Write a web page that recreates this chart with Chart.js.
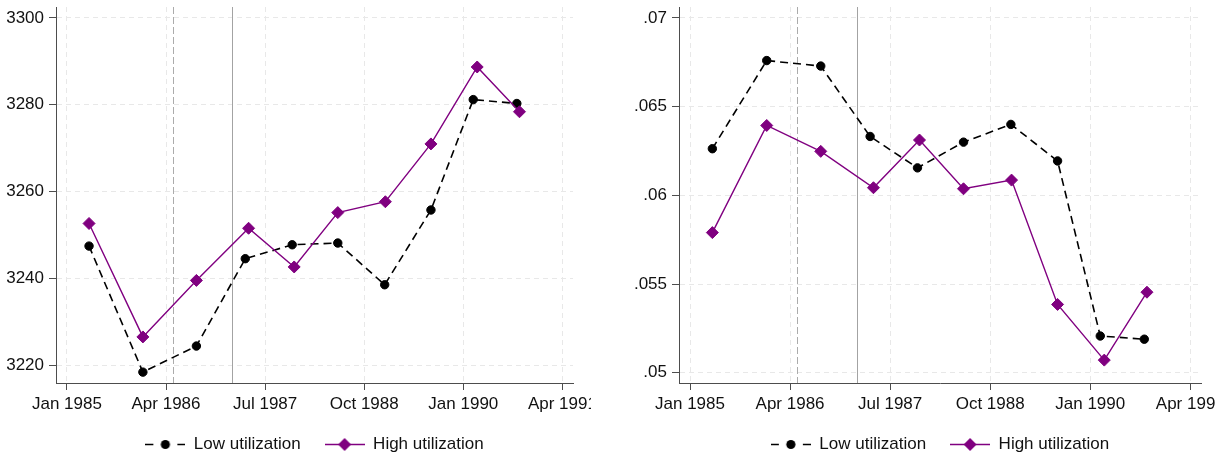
<!DOCTYPE html>
<html>
<head>
<meta charset="utf-8">
<script src="https://cdn.jsdelivr.net/npm/chart.js@4.4.1/dist/chart.umd.min.js"></script>
<style>
  html, body { margin: 0; padding: 0; background: #fff; }
  #wrap { position: relative; width: 1228px; height: 460px; overflow: hidden; }
  canvas { position: absolute; top: 0; display: block; }
</style>
</head>
<body>
<div id="wrap">
  <canvas id="levelChart" width="591" height="460" style="left:0"></canvas>
  <canvas id="rateChart" width="596" height="460" style="left:620px"></canvas>
</div>
<script>
// x is months since Jan 1985
const xTickValues = [0, 15, 30, 45, 60, 75];
const xTickLabels = ["Jan 1985", "Apr 1986", "Jul 1987", "Oct 1988", "Jan 1990", "Apr 1991"];
const lowMonths = [3.35, 11.5, 19.6, 27, 34.1, 41, 48.1, 55.1, 61.5, 68.1];
const highMonths = [3.35, 11.5, 19.6, 27.5, 34.4, 41, 48.2, 55.1, 62.1, 68.5];
const eventMonths = [16, 25]; // dashed, solid

const seriesNames = ["Low utilization", "High utilization"];

const levelLow = [3247.5, 3218.5, 3224.5, 3244.6, 3247.8, 3248.2, 3238.6, 3255.8, 3281.2, 3280.3];
const levelHigh = [3252.7, 3226.6, 3239.6, 3251.6, 3242.7, 3255.2, 3257.7, 3271.0, 3288.7, 3278.4];
const levelTicks = [3220, 3240, 3260, 3280, 3300];
const levelTickLabels = ["3220", "3240", "3260", "3280", "3300"];

const rateLow = [0.06263, 0.0676, 0.06729, 0.06332, 0.06155, 0.0630, 0.0640, 0.06194, 0.05207, 0.05189];
const rateHigh = [0.0579, 0.06394, 0.06248, 0.06043, 0.06312, 0.06037, 0.06086, 0.05385, 0.05071, 0.05454];
const rateTicks = [0.05, 0.055, 0.06, 0.065, 0.07];
const rateTickLabels = [".05", ".055", ".06", ".065", ".07"];

const PURPLE = "#800080";
const AXIS = "#4d4d4d";
const GRID = "#e8e8e8";
const TEXT = "#111";
const FONT = { family: "'Liberation Sans', Arial, sans-serif", size: 17 };

function legendIcon(kind) {
  const c = document.createElement("canvas");
  c.width = 40;
  c.height = 17;
  const g = c.getContext("2d");
  if (kind === "low") {
    g.strokeStyle = "#000";
    g.lineWidth = 1.6;
    g.beginPath();
    g.moveTo(0, 8.5); g.lineTo(8, 8.5);
    g.moveTo(32, 8.5); g.lineTo(40, 8.5);
    g.stroke();
    g.fillStyle = "#000";
    g.beginPath();
    g.arc(20, 8.5, 4.6, 0, Math.PI * 2);
    g.fill();
  } else {
    g.strokeStyle = PURPLE;
    g.lineWidth = 1.4;
    g.beginPath();
    g.moveTo(0, 8.5); g.lineTo(40, 8.5);
    g.stroke();
    g.fillStyle = PURPLE;
    g.beginPath();
    g.moveTo(13.5, 8.5); g.lineTo(20, 2); g.lineTo(26.5, 8.5); g.lineTo(20, 15);
    g.closePath();
    g.fill();
  }
  return c;
}
const legendIcons = [legendIcon("low"), legendIcon("high")];

const eventLines = {
  id: "eventLines",
  beforeDatasetsDraw(chart) {
    const { ctx, chartArea, scales } = chart;
    eventMonths.forEach((m, i) => {
      const x = Math.round(scales.x.getPixelForValue(m)) + 0.5;
      ctx.save();
      ctx.strokeStyle = i === 0 ? "#ababab" : "#a3a3a3";
      ctx.lineWidth = 1;
      ctx.setLineDash(i === 0 ? [7, 3] : []);
      ctx.beginPath();
      ctx.moveTo(x, chartArea.top);
      ctx.lineTo(x, chartArea.bottom);
      ctx.stroke();
      ctx.restore();
    });
  }
};

function toPoints(months, vals) {
  return months.map((m, i) => ({ x: m, y: vals[i] }));
}

function makePanel(id, low, high, yMin, yMax, yTicks, yLabels, axisWidth, padRight) {
  new Chart(document.getElementById(id), {
    type: "line",
    data: {
      datasets: [
        {
          label: seriesNames[0],
          data: toPoints(lowMonths, low),
          order: 1,
          borderColor: "#000",
          borderWidth: 1.6,
          borderDash: [8, 5],
          pointStyle: "circle",
          pointRadius: 4.2,
          pointBorderWidth: 1,
          pointBackgroundColor: "#000",
          pointBorderColor: "#000",
          tension: 0
        },
        {
          label: seriesNames[1],
          data: toPoints(highMonths, high),
          order: 0,
          borderColor: PURPLE,
          borderWidth: 1.4,
          pointStyle: "rectRot",
          pointRadius: 6,
          pointBorderWidth: 1,
          pointBackgroundColor: PURPLE,
          pointBorderColor: PURPLE,
          tension: 0
        }
      ]
    },
    options: {
      responsive: false,
      animation: false,
      events: [],
      layout: { padding: { top: 5, right: padRight, left: 0, bottom: -3 } },
      scales: {
        x: {
          type: "linear",
          min: -1.65,
          max: 76.6,
          afterBuildTicks: (s) => { s.ticks = xTickValues.map((v) => ({ value: v })); },
          afterFit: (s) => { s.height = 29; s.paddingLeft = 0; s.paddingRight = 0; },
          ticks: {
            autoSkip: false,
            maxRotation: 0,
            padding: 4,
            color: TEXT,
            font: FONT,
            callback: (v, i) => xTickLabels[i]
          },
          grid: { color: GRID, tickColor: AXIS, tickLength: 7, tickBorderDash: [] },
          border: { color: AXIS, width: 1, dash: [5, 4] }
        },
        y: {
          min: yMin,
          max: yMax,
          afterBuildTicks: (s) => { s.ticks = yTicks.map((v) => ({ value: v })); },
          afterFit: (s) => { s.width = axisWidth; s.paddingTop = 0; s.paddingBottom = 0; },
          ticks: {
            padding: 5,
            color: TEXT,
            font: FONT,
            callback: (v, i) => yLabels[i]
          },
          grid: { color: GRID, tickColor: AXIS, tickLength: 7, tickBorderDash: [] },
          border: { color: AXIS, width: 1, dash: [5, 4] }
        }
      },
      plugins: {
        tooltip: { enabled: false },
        legend: {
          position: "bottom",
          fullSize: false,
          labels: {
            usePointStyle: true,
            pointStyleWidth: 40,
            padding: 24,
            color: TEXT,
            font: FONT,
            generateLabels: (chart) => chart.data.datasets.map((ds, i) => ({
              text: ds.label,
              pointStyle: legendIcons[i],
              datasetIndex: i,
              hidden: false,
              lineWidth: 0,
              fontColor: TEXT
            }))
          }
        }
      }
    },
    plugins: [eventLines]
  });
}

makePanel("levelChart", levelLow, levelHigh, 3216.0, 3302.5, levelTicks, levelTickLabels, 56, 18);
makePanel("rateChart", rateLow, rateHigh, 0.04942, 0.07062, rateTicks, rateTickLabels, 59, 15);
</script>
</body>
</html>
